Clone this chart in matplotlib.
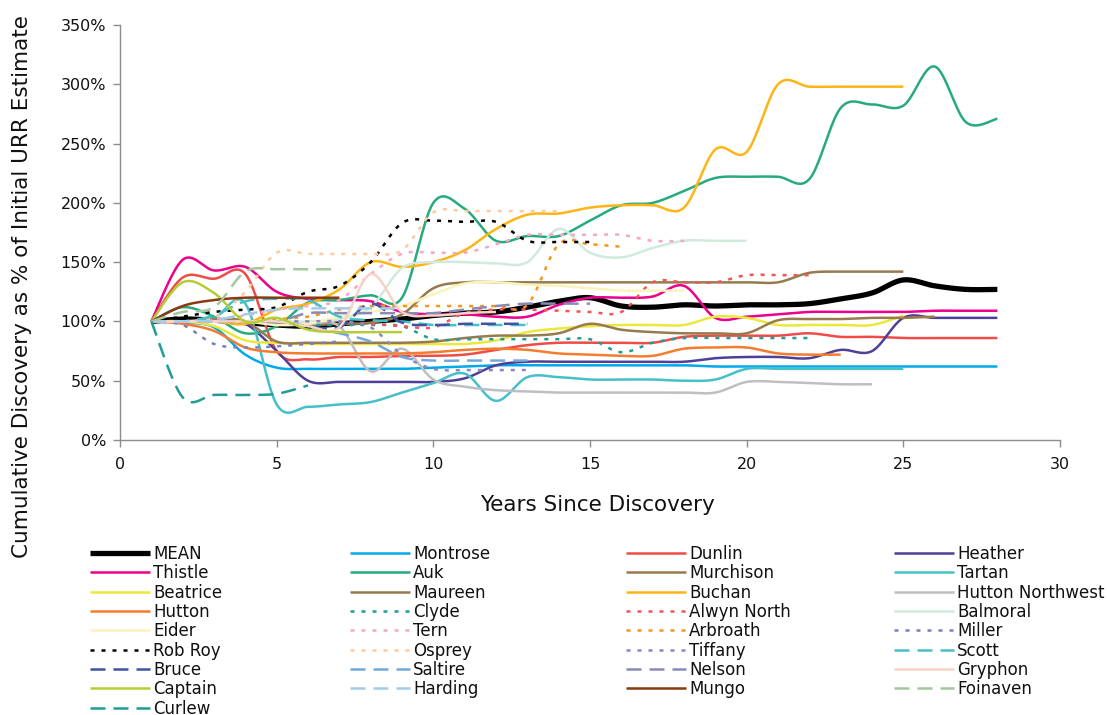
import numpy as np
import matplotlib
matplotlib.use("Agg")
import matplotlib.pyplot as plt

# cumulative discovery as % of initial URR estimate, one value per year since discovery (from year 1)
mean = [100, 102, 101, 99, 97, 96, 98, 100, 102, 105, 107, 108, 112, 117, 120, 113, 112, 114, 113, 114,
        114, 115, 119, 124, 135, 130, 127, 127]
montrose = [100, 99, 95, 72, 61, 60, 60, 60, 60, 61, 62, 63, 63, 63, 63, 63, 63, 63, 62, 62,
            62, 62, 62, 62, 62, 62, 62, 62]
dunlin = [100, 137, 136, 140, 75, 68, 70, 70, 71, 71, 72, 76, 80, 82, 82, 82, 82, 87, 88, 88,
          88, 90, 87, 87, 86, 86, 86, 86]
heather = [100, 100, 100, 98, 75, 50, 49, 49, 49, 49, 52, 63, 66, 66, 66, 66, 66, 66, 69, 70,
           70, 69, 76, 75, 103, 103, 103, 103]
thistle = [100, 152, 143, 146, 125, 119, 118, 117, 108, 106, 106, 104, 104, 114, 120, 120, 121, 130, 103, 104,
           106, 108, 108, 108, 108, 109, 109, 109]
auk = [100, 112, 104, 90, 96, 116, 118, 122, 120, 200, 195, 168, 172, 172, 185, 198, 200, 210, 221, 222,
       222, 220, 280, 283, 282, 315, 268, 271]
murchison = [100, 100, 100, 100, 98, 97, 98, 99, 106, 128, 133, 133, 133, 133, 133, 133, 133, 133, 133, 133,
             133, 141, 142, 142, 142]
tartan = [100, 100, 103, 115, 30, 28, 30, 32, 40, 48, 56, 33, 53, 53, 51, 51, 51, 50, 51, 60,
          60, 60, 60, 60, 60]
beatrice = [100, 100, 96, 84, 82, 81, 81, 81, 81, 81, 81, 84, 91, 94, 96, 97, 97, 97, 104, 103,
            97, 97, 97, 97, 105]
maureen = [100, 100, 102, 100, 83, 82, 82, 82, 82, 83, 86, 88, 88, 90, 98, 93, 91, 90, 90, 90,
           101, 102, 102, 103, 103, 104]
buchan = [100, 100, 100, 98, 110, 115, 127, 150, 146, 150, 160, 178, 190, 191, 196, 198, 198, 196, 245, 243,
          300, 298, 298, 298, 298]
hutton_nw = [100, 100, 100, 100, 100, 98, 96, 58, 77, 51, 45, 42, 41, 40, 40, 40, 40, 40, 40, 49,
             49, 48, 47, 47]
hutton = [100, 98, 92, 78, 74, 73, 73, 73, 73, 74, 76, 77, 76, 73, 72, 71, 71, 77, 78, 78,
          73, 72, 72]
clyde = [100, 100, 100, 100, 98, 97, 97, 97, 96, 85, 85, 85, 85, 85, 85, 74, 82, 86, 86, 86,
         86, 86]
alwyn_north = [100, 100, 100, 100, 100, 100, 100, 98, 96, 95, 107, 110, 110, 109, 108, 108, 133, 133, 133, 139,
               139, 139]
balmoral = [100, 100, 100, 100, 100, 100, 102, 112, 145, 150, 150, 149, 150, 178, 158, 154, 162, 168, 168, 168]
eider = [100, 100, 100, 100, 97, 98, 104, 108, 113, 123, 132, 133, 131, 130, 128, 126, 126, 126]
tern = [100, 100, 102, 105, 110, 113, 118, 140, 157, 158, 158, 165, 173, 173, 173, 173, 168, 168]
arbroath = [100, 100, 100, 100, 102, 104, 110, 113, 113, 113, 113, 113, 114, 165, 165, 163]
miller = [100, 97, 81, 78, 79, 81, 83]
rob_roy = [100, 104, 108, 110, 112, 125, 130, 150, 183, 185, 184, 184, 168, 167, 167]
osprey = [100, 100, 103, 125, 158, 157, 157, 157, 160, 192, 193, 193, 193, 193]
tiffany = [100, 100, 100, 100, 100, 100, 100, 95, 72, 60, 59, 59, 59]
scott = [100, 100, 105, 117, 119, 118, 104, 101, 100, 97, 97, 97, 97]
bruce = [100, 100, 100, 100, 100, 96, 95, 115, 99, 97, 98, 98, 98]
saltire = [100, 100, 100, 100, 100, 95, 90, 83, 70, 67, 67, 67, 67]
nelson = [100, 100, 100, 100, 100, 107, 107, 107, 107, 107, 110, 113, 115, 115, 115]
gryphon = [100, 100, 100, 100, 100, 96, 95, 140, 108, 105, 107, 108]
captain = [100, 133, 124, 100, 103, 93, 91, 91, 91]
harding = [100, 100, 101, 106, 110, 111, 111, 111, 111]
mungo = [100, 113, 118, 120, 120, 120, 120]
foinaven = [100, 108, 112, 142, 144, 144, 144]
curlew = [100, 36, 38, 38, 39, 46]

SOLID = '-'
DOT = (0, (1.6, 2.8))
DASH = (0, (6, 3.2))

# name, values, colour, style  (legend order, read row by row)
series = [
    ('MEAN', mean, 'black', SOLID),
    ('Montrose', montrose, '#00a9e8', SOLID),
    ('Dunlin', dunlin, '#ef4c47', SOLID),
    ('Heather', heather, '#4f3f98', SOLID),
    ('Thistle', thistle, '#ec008c', SOLID),
    ('Auk', auk, '#27aa7c', SOLID),
    ('Murchison', murchison, '#977b4e', SOLID),
    ('Tartan', tartan, '#45bfc8', SOLID),
    ('Beatrice', beatrice, '#ece83a', SOLID),
    ('Maureen', maureen, '#977b4e', SOLID),
    ('Buchan', buchan, '#fdb515', SOLID),
    ('Hutton Northwest', hutton_nw, '#bfbfc3', SOLID),
    ('Hutton', hutton, '#f47c30', SOLID),
    ('Clyde', clyde, '#1f9c94', DOT),
    ('Alwyn North', alwyn_north, '#f05656', DOT),
    ('Balmoral', balmoral, '#d0eadc', SOLID),
    ('Eider', eider, '#faf3bc', SOLID),
    ('Tern', tern, '#f6a6c9', DOT),
    ('Arbroath', arbroath, '#f7941d', DOT),
    ('Miller', miller, '#7d7cc2', DOT),
    ('Rob Roy', rob_roy, 'black', DOT),
    ('Osprey', osprey, '#fdcb9c', DOT),
    ('Tiffany', tiffany, '#8a86c4', DOT),
    ('Scott', scott, '#45bfc8', DASH),
    ('Bruce', bruce, '#3f52a3', DASH),
    ('Saltire', saltire, '#72a8db', DASH),
    ('Nelson', nelson, '#8a8ab8', DASH),
    ('Gryphon', gryphon, '#f8d2c6', SOLID),
    ('Captain', captain, '#b5cd35', SOLID),
    ('Harding', harding, '#a3cbea', DASH),
    ('Mungo', mungo, '#8b3a0f', SOLID),
    ('Foinaven', foinaven, '#a3c89f', DASH),
    ('Curlew', curlew, '#1f9c94', DASH),
]


def smooth(x, y, n=20):
    # Catmull-Rom curve through the yearly points, like a smoothed spreadsheet line
    p = np.column_stack([x, y]).astype(float)
    p = np.vstack([p[0], p, p[-1]])
    out = []
    t = np.linspace(0, 1, n, endpoint=False)[:, None]
    for i in range(1, len(p) - 2):
        p0, p1, p2, p3 = p[i - 1], p[i], p[i + 1], p[i + 2]
        c = 0.5 * ((2 * p1) + (-p0 + p2) * t + (2 * p0 - 5 * p1 + 4 * p2 - p3) * t ** 2
                   + (-p0 + 3 * p1 - 3 * p2 + p3) * t ** 3)
        out.append(c)
    out.append(p[-2][None, :])
    c = np.vstack(out)
    return c[:, 0], c[:, 1]


plt.rcParams['font.family'] = ['DejaVu Sans']

fig = plt.figure(figsize=(11.07, 7.15), dpi=100)
ax = fig.add_axes([120 / 1107, 1 - 440 / 715, 940 / 1107, 415 / 715])

handles = []
for name, vals, col, ls in series:
    yrs = np.arange(1, len(vals) + 1)
    sx, sy = smooth(yrs, vals)
    lw = 3.8 if name == 'MEAN' else 1.8
    line, = ax.plot(sx, sy, color=col, lw=lw, linestyle=ls, label=name,
                    solid_capstyle='butt', dash_capstyle='butt')
    handles.append(line)

ax.set_xlim(0, 30)
ax.set_ylim(0, 350)
ax.set_xticks(range(0, 31, 5))
ax.set_yticks(range(0, 351, 50))
ax.set_yticklabels([f'{v}%' for v in range(0, 351, 50)])
for s in ['top', 'right']:
    ax.spines[s].set_visible(False)
for s in ['left', 'bottom']:
    ax.spines[s].set_color('#8c8c8c')
    ax.spines[s].set_linewidth(1.0)
ax.tick_params(direction='out', length=5, width=1.0, color='#8c8c8c',
               labelsize=11.5, labelcolor='#111111', pad=5)
ax.tick_params(axis='x', pad=7)

fig.text(597 / 1107, 1 - 505 / 715, 'Years Since Discovery', ha='center', va='center',
         fontsize=15.5, color='#111111')
fig.text(22 / 1107, 1 - 287 / 715, 'Cumulative Discovery as % of Initial URR Estimate',
         ha='center', va='center', rotation=90, fontsize=15.5, color='#111111')

# legend: four columns, entries filled row by row
col_x = [90, 350, 626, 894]
for c in range(4):
    hs = handles[c::4]
    leg = fig.legend(handles=hs, labels=[h.get_label() for h in hs],
                     loc='upper left', bbox_to_anchor=(col_x[c] / 1107, 1 - 545 / 715),
                     frameon=False, fontsize=12, handlelength=3.6, handletextpad=0.2,
                     labelspacing=0.08, borderpad=0, borderaxespad=0)
    for t in leg.get_texts():
        t.set_color('#111111')

fig.savefig('out.png', dpi=100)
